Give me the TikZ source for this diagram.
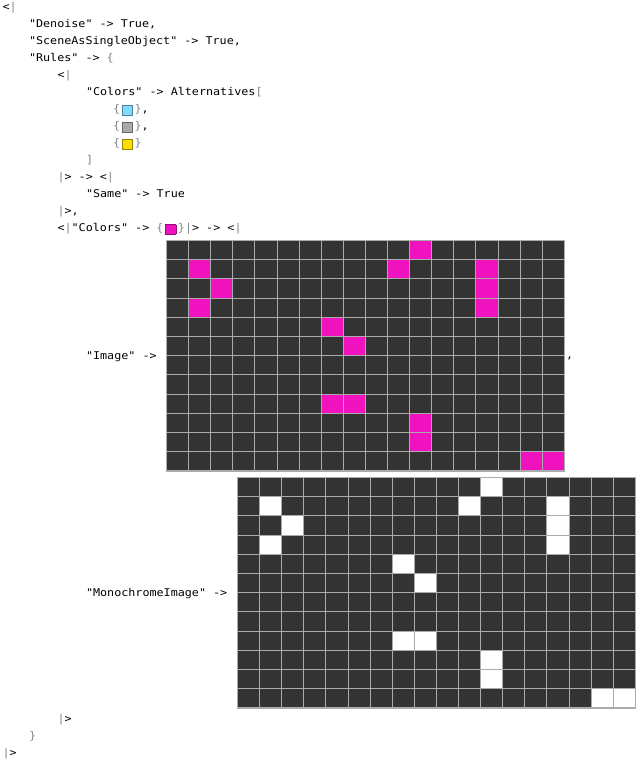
\documentclass[tikz,border=0pt]{standalone}
\usepackage{fontspec}
\newfontfamily\codefont[Ligatures=TeXOff,FakeStretch=1.1]{DejaVu Sans Mono}

\definecolor{codeblack}{HTML}{000000}
\definecolor{bracketgray}{HTML}{858585}
\definecolor{celldark}{HTML}{333333}
\definecolor{cellmagenta}{HTML}{F012BE}
\definecolor{gridgray}{HTML}{ABABAB}
\definecolor{swatchblue}{HTML}{7FDBFF}
\definecolor{swatchblueedge}{HTML}{4C8399}
\definecolor{swatchgray}{HTML}{AAAAAA}
\definecolor{swatchgrayedge}{HTML}{666666}
\definecolor{swatchyellow}{HTML}{FFDC00}
\definecolor{swatchyellowedge}{HTML}{998400}
\definecolor{swatchmagentaedge}{HTML}{900B72}

\newcommand{\gr}[1]{\textcolor{bracketgray}{#1}}
\newcommand{\swatch}[2]{\hspace{1.15pt}{\setlength{\fboxsep}{0pt}\setlength{\fboxrule}{0.6pt}\raisebox{-1.8pt}{\fcolorbox{#1}{#2}{\rule{0pt}{6.6pt}\hspace{7.4pt}}}}\hspace{1.15pt}}

\tikzset{every picture/.style={line width=0.75pt}}

\begin{document}
\begin{tikzpicture}[x=0.75pt,y=0.75pt,yscale=-1,xscale=1,
    every node/.style={font=\codefont\fontsize{8}{10}\selectfont, text=codeblack, inner sep=0pt, anchor=base west},
    gridline/.style={draw=gridgray, line width=0.75pt}]
        %set diagram left start at 0, and has height of 760
        \fill[white] (0,0) rectangle (636,760);
        \path[use as bounding box] (0,0) rectangle (636,760);

        %Shape: Grids [id:image, id:monochrome]
        \foreach \gx/\gy/\gcol in {166.5/240.5/cellmagenta, 237.5/477.5/white}{
          \begin{scope}[shift={(\gx,\gy)}]
            \fill[celldark] (0,0) rectangle (397.8,230.4);
            \foreach \r/\c in {0/11,1/1,1/10,1/14,2/2,2/14,3/1,3/14,4/7,5/8,8/7,8/8,9/11,10/11,11/16,11/17}
              \fill[\gcol] (\c*22.1,\r*19.2) rectangle ++(22.1,19.2);
            \foreach \i in {1,...,17}
              \draw[gridline] (\i*22.1,0) -- ++(0,230.4);
            \foreach \j in {1,...,11}
              \draw[gridline] (0,\j*19.2) -- ++(397.8,0);
            \draw[gridline, line width=1.1pt] (0,0) rectangle (397.8,230.4);
          \end{scope}
        }

        % Text Node
        \draw (2,10) node (assocopen) {<\gr{|}};
        % Text Node
        \draw (28.5,27.05) node (denoise) {"Denoise" -> True,};
        % Text Node
        \draw (28.5,44.1) node (sceneobject) {"SceneAsSingleObject" -> True,};
        % Text Node
        \draw (28.5,61.15) node (rules) {"Rules" -> \gr{\{}};
        % Text Node
        \draw (57,78.2) node (ruleopen) {<\gr{|}};
        % Text Node
        \draw (85.5,95.25) node (colorsalt) {"Colors" -> Alternatives\gr{[}};
        % Text Node
        \draw (112.5,112.3) node (swatchblue) {\gr{\{}\swatch{swatchblueedge}{swatchblue}\gr{\}},};
        % Text Node
        \draw (112.5,129.35) node (swatchgray) {\gr{\{}\swatch{swatchgrayedge}{swatchgray}\gr{\}},};
        % Text Node
        \draw (112.5,146.4) node (swatchyellow) {\gr{\{}\swatch{swatchyellowedge}{swatchyellow}\gr{\}}};
        % Text Node
        \draw (85.5,163.45) node (altclose) {\gr{]}};
        % Text Node
        \draw (57,180.5) node (ruleto) {\gr{|}> -> <\gr{|}};
        % Text Node
        \draw (85.5,197.55) node (same) {"Same" -> True};
        % Text Node
        \draw (57,214.6) node (ruleclose) {\gr{|}>,};
        % Text Node
        \draw (57,231.65) node (magentarule) {<\gr{|}"Colors" -> \gr{\{}\swatch{swatchmagentaedge}{cellmagenta}\gr{\}}\gr{|}> -> <\gr{|}};
        % Text Node
        \draw (85.5,359) node (imagekey) {"Image" ->};
        % Text Node
        \draw (565.5,358) node (imagecomma) {,};
        % Text Node
        \draw (85.5,596) node (monokey) {"MonochromeImage" ->};
        % Text Node
        \draw (57,722) node (targetclose) {\gr{|}>};
        % Text Node
        \draw (28.5,739) node (rulesclose) {\gr{\}}};
        % Text Node
        \draw (2,756) node (assocclose) {\gr{|}>};
\end{tikzpicture}
\end{document}
